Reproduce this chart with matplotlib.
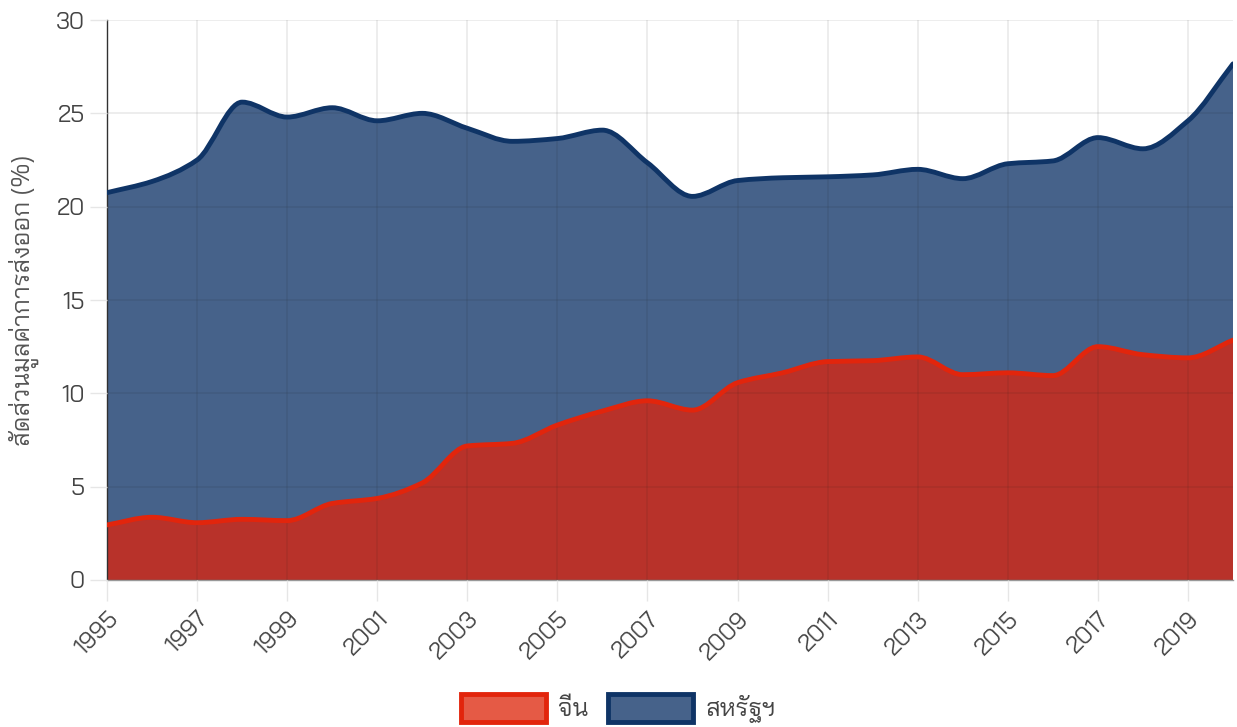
import matplotlib
matplotlib.use("Agg")
import numpy as np
import matplotlib.pyplot as plt
import matplotlib.transforms as mtransforms
from matplotlib.path import Path
from matplotlib.patches import PathPatch, Patch

years = list(range(1995, 2021))
china = [2.95, 3.36, 3.07, 3.25, 3.18, 4.1, 4.37, 5.2, 7.18, 7.32, 8.3, 9.05, 9.6, 9.1,
         10.57, 11.1, 11.7, 11.75, 11.95, 11.0, 11.1, 10.95, 12.5, 12.07, 11.9, 12.85]
usa = [20.75, 21.35, 22.5, 25.6, 24.8, 25.3, 24.6, 25.0, 24.2, 23.5, 23.65, 24.1, 22.35, 20.55,
       21.4, 21.55, 21.6, 21.7, 22.0, 21.5, 22.3, 22.45, 23.7, 23.1, 24.6, 27.65]
xtick_years = list(range(1995, 2021, 2))
series_names = ["จีน", "สหรัฐฯ"]
ylabel = "สัดส่วนมูลค่าการส่งออก (%)"

FONT = ["Bai Jamjuree", "DejaVu Sans"]
plt.rcParams['font.family'] = FONT


def smooth_path(x, y, close_base=None):
    """Monotone cubic (Fritsch-Carlson) curve as Bezier path through the data points."""
    x = np.asarray(x, float)
    y = np.asarray(y, float)
    n = len(x)
    h = np.diff(x)
    d = np.diff(y) / h
    m = np.zeros(n)
    m[0] = d[0]
    m[-1] = d[-1]
    for i in range(1, n - 1):
        if d[i - 1] * d[i] <= 0:
            m[i] = 0.0
        else:
            w1 = 2 * h[i] + h[i - 1]
            w2 = h[i] + 2 * h[i - 1]
            m[i] = (w1 + w2) / (w1 / d[i - 1] + w2 / d[i])
    verts = [(x[0], y[0])]
    codes = [Path.MOVETO]
    for i in range(n - 1):
        verts += [(x[i] + h[i] / 3, y[i] + m[i] * h[i] / 3),
                  (x[i + 1] - h[i] / 3, y[i + 1] - m[i + 1] * h[i] / 3),
                  (x[i + 1], y[i + 1])]
        codes += [Path.CURVE4] * 3
    if close_base is not None:
        verts += [(x[-1], close_base), (x[0], close_base), (x[0], y[0])]
        codes += [Path.LINETO, Path.LINETO, Path.CLOSEPOLY]
    return Path(verts, codes)


fig = plt.figure(figsize=(12.37, 7.27), dpi=100)
ax = fig.add_axes([107 / 1237, 1 - 580 / 727, (1233 - 107) / 1237, (580 - 20) / 727])

blue_fill = "#46628a"
blue_line = "#0f3466"
red_fill = "#b8322a"
red_line = "#e2250c"

ax.add_patch(PathPatch(smooth_path(years, usa, close_base=0), facecolor=blue_fill, edgecolor='none', zorder=1))
ax.add_patch(PathPatch(smooth_path(years, china, close_base=0), facecolor=red_fill, edgecolor='none', zorder=2))
ax.add_patch(PathPatch(smooth_path(years, usa), facecolor='none', edgecolor=blue_line, lw=3.5, zorder=4,
                       capstyle='round', joinstyle='round'))
ax.add_patch(PathPatch(smooth_path(years, china), facecolor='none', edgecolor=red_line, lw=3.5, zorder=4,
                       capstyle='round', joinstyle='round'))

ax.set_xlim(1995, 2020)
ax.set_ylim(0, 30)
ax.set_yticks([0, 5, 10, 15, 20, 25, 30])
ax.set_xticks(xtick_years)
ax.set_xticklabels([str(y) for y in xtick_years], rotation=45, ha='right', va='top',
                   rotation_mode='anchor', fontsize=17, color='#444444')
offset = mtransforms.ScaledTranslation(9 / 100, -7 / 100, fig.dpi_scale_trans)
for lab in ax.get_xticklabels():
    lab.set_transform(lab.get_transform() + offset)
ax.tick_params(axis='y', labelsize=17, colors='#444444', length=12, width=1, color='#e6e6e6', pad=4)
ax.tick_params(axis='x', length=15, width=1, color='#e6e6e6', pad=5)
for lab in ax.get_yticklabels():
    lab.set_color('#444444')
ax.grid(True, color='#1a1a1a', alpha=0.09, lw=1.2, zorder=3)
ax.set_axisbelow(False)
for s in ['top', 'right']:
    ax.spines[s].set_visible(False)
ax.spines['left'].set_color('#333333')
ax.spines['left'].set_linewidth(1)
ax.spines['bottom'].set_color('#999999')
ax.spines['bottom'].set_linewidth(1)
ax.set_ylabel(ylabel, fontsize=18, color='#555555', labelpad=12)

handles = [Patch(facecolor="#e55a45", edgecolor=red_line, lw=3.5),
           Patch(facecolor=blue_fill, edgecolor=blue_line, lw=3.5)]
fig.legend(handles, series_names, loc='lower center', bbox_to_anchor=(0.5, -0.026), ncol=2, frameon=False,
           fontsize=18, handlelength=3.4, handleheight=1.3, columnspacing=0.8, handletextpad=0.5,
           labelcolor='#444444')

fig.savefig("out.png", dpi=100)
